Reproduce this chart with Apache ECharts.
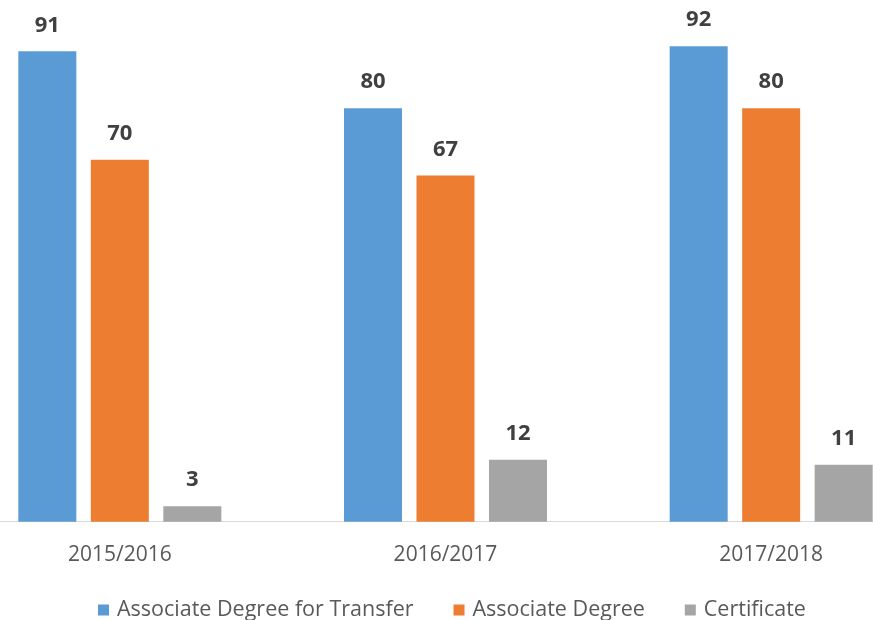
<!DOCTYPE html>
<html>
<head>
<meta charset="utf-8">
<script src="https://cdn.jsdelivr.net/npm/echarts@6/dist/echarts.min.js"></script>
<style>
  html, body { margin: 0; padding: 0; background: #fff; overflow: hidden; }
  /* plot area is cropped on both sides, so the canvas is wider than the window */
  #chart { position: absolute; left: -43px; top: 0; width: 977px; height: 620px; }
</style>
</head>
<body>
<div id="chart"></div>
<script>
// 数据
let years = ['2015/2016', '2016/2017', '2017/2018'];
let adtData = [91, 80, 92];
let adData = [70, 67, 80];
let certData = [3, 12, 11];

let chart = echarts.init(document.getElementById('chart'));

let labelStyle = {
    show: true,
    position: 'top',
    distance: 15,
    color: '#404040',
    fontFamily: 'Open Sans',
    fontWeight: 'bold',
    fontSize: 22
};

let option = {
    animation: false,
    grid: {
        left: 0,
        right: 0,
        top: 4.8,
        bottom: 98.3
    },
    legend: {
        left: 136,
        top: 594,
        itemWidth: 11,
        itemHeight: 11,
        itemGap: 40,
        icon: 'rect',
        textStyle: {
            fontFamily: 'Open Sans',
            fontSize: 21.5,
            color: '#595959',
            padding: [0, 0, 0, 3]
        }
    },
    xAxis: {
        type: 'category',
        data: years,
        axisLine: { lineStyle: { color: '#d9d9d9', width: 1 } },
        axisTick: { show: false },
        axisLabel: {
            margin: 23,
            fontFamily: 'Open Sans',
            fontSize: 21,
            color: '#595959'
        }
    },
    yAxis: {
        type: 'value',
        min: 0,
        max: 100,
        show: false,
        splitLine: { show: false }
    },
    series: [
        {
            name: 'Associate Degree for Transfer',
            type: 'bar',
            barWidth: 58,
            barGap: '25%',
            itemStyle: { color: '#5b9bd5' },
            label: labelStyle,
            data: adtData
        },
        {
            name: 'Associate Degree',
            type: 'bar',
            barWidth: 58,
            barGap: '25%',
            itemStyle: { color: '#ed7d31' },
            label: labelStyle,
            data: adData
        },
        {
            name: 'Certificate',
            type: 'bar',
            barWidth: 58,
            barGap: '25%',
            itemStyle: { color: '#a5a5a5' },
            label: labelStyle,
            data: certData
        }
    ]
};
option && chart.setOption(option);
</script>
</body>
</html>
